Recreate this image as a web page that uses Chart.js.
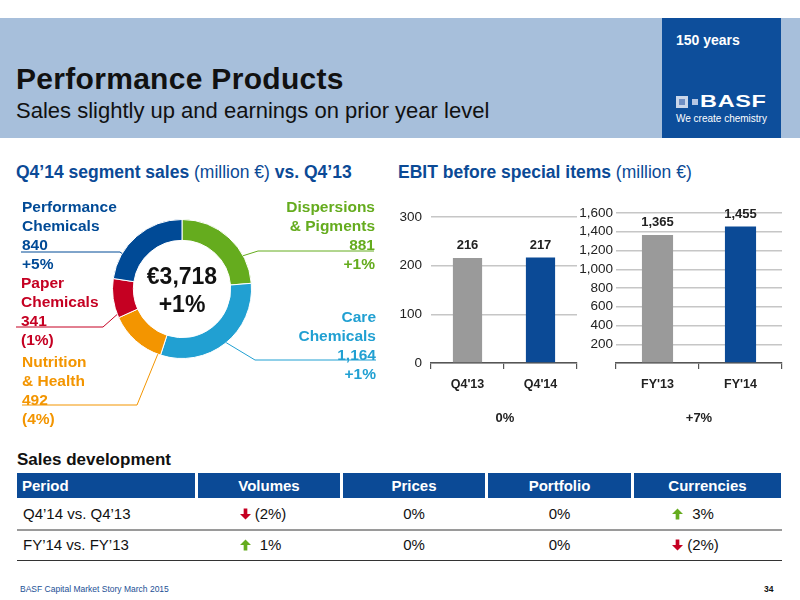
<!DOCTYPE html>
<html>
<head>
<meta charset="utf-8">
<script src="https://cdn.jsdelivr.net/npm/chart.js@4.4.1/dist/chart.umd.min.js"></script>
<style>
  body { margin: 0; width: 800px; height: 600px; position: relative; overflow: hidden;
         font-family: "Liberation Sans", Arial, sans-serif; background: #fff; color: #111; }
  .abs { position: absolute; }
  #band { left: 0; top: 18px; width: 800px; height: 120px; background: #a7bfdb; }
  #logoBox { left: 662px; top: 18px; width: 119px; height: 120px; background: #0d4e9b; color: #fff; }
  #title { left: 16px; top: 62px; font-size: 30px; font-weight: bold; letter-spacing: 0.3px; }
  #subtitle { left: 16px; top: 98px; font-size: 22px; }
  .head { font-size: 17.5px; color: #0b4a96; font-weight: bold; top: 162px; }
  .head span { font-weight: normal; }
  .lbl { font-size: 15.5px; font-weight: bold; line-height: 19px; }
  .lbl.r { text-align: right; }
  #centre { left: 122px; width: 120px; top: 262px; text-align: center; font-size: 23px;
            font-weight: bold; line-height: 28px; color: #111; }
  .pct { font-size: 13px; font-weight: bold; top: 410px; width: 60px; text-align: center; color: #222; }
  #tblTitle { left: 17px; top: 450px; font-size: 17px; font-weight: bold; }
  #tbl { left: 17px; top: 473px; width: 765px; }
  .row { display: grid; grid-template-columns: 178px 142px 142px 143px 147px; column-gap: 3px; }
  .hdr div { background: #0b4a96; color: #fff; font-weight: bold; font-size: 15px; height: 25px;
             line-height: 25px; text-align: center; }
  .hdr div:first-child { text-align: left; padding-left: 5px; }
  .body { font-size: 15px; height: 31px; line-height: 32px; }
  .body div { text-align: center; }
  .body div:first-child { text-align: left; padding-left: 6px; }
  .sep { border-bottom: 2px solid #9a9a9a; }
  .last { border-bottom: 1.5px solid #333; height: 29px; line-height: 28px; }
  .arr { display: inline-block; width: 11px; height: 12px; vertical-align: -1px; }
  .val { display: inline-block; width: 36px; text-align: center; margin-left: 2px; }
  #foot { left: 20px; top: 584px; font-size: 8.5px; color: #1c4f95; }
  #page { left: 764px; top: 584px; font-size: 8.5px; font-weight: bold; }
</style>
</head>
<body>
<div id="band" class="abs"></div>
<div id="logoBox" class="abs">
  <div class="abs" style="left:14px;top:14px;font-size:14px;font-weight:bold;">150 years</div>
  <div class="abs" style="left:14px;top:78px;width:12px;height:12px;background:#c9d6ea;"></div>
  <div class="abs" style="left:17px;top:81px;width:6px;height:6px;background:#6f8fc4;"></div>
  <div class="abs" style="left:30px;top:81px;width:6px;height:6px;background:#b4c5e2;"></div>
  <div class="abs" style="left:38px;top:74px;font-size:17px;font-weight:bold;transform:scaleX(1.38);transform-origin:left;letter-spacing:0.5px;">BASF</div>
  <div class="abs" style="left:14px;top:95px;font-size:10px;">We create chemistry</div>
</div>
<div id="title" class="abs">Performance Products</div>
<div id="subtitle" class="abs">Sales slightly up and earnings on prior year level</div>

<div class="abs head" style="left:16px;">Q4’14 segment sales <span>(million €)</span> vs. Q4’13</div>
<div class="abs head" style="left:398px;">EBIT before special items <span>(million €)</span></div>

<canvas id="donut" class="abs" width="390" height="240" style="left:0;top:190px;"></canvas>
<div id="segLabels"></div>
<div id="centre" class="abs"></div>

<canvas id="qChart" class="abs" width="200" height="200" style="left:390px;top:200px;"></canvas>
<canvas id="yChart" class="abs" width="220" height="200" style="left:575px;top:200px;"></canvas>
<div class="abs pct" id="qPct" style="left:475px;"></div>
<div class="abs pct" id="yPct" style="left:669px;"></div>

<div id="tblTitle" class="abs">Sales development</div>
<div id="tbl" class="abs"></div>

<div id="foot" class="abs">BASF Capital Market Story March 2015</div>
<div id="page" class="abs">34</div>

<script>
// ---- data ----
const segments = ['Dispersions & Pigments', 'Care Chemicals', 'Nutrition & Health', 'Paper Chemicals', 'Performance Chemicals'];
const segmentSales = [881, 1164, 492, 341, 840];
const segmentChange = ['+1%', '+1%', '(4%)', '(1%)', '+5%'];
const totalChange = '+1%';

const quarterLabels = ["Q4'13", "Q4'14"];
const quarterEbit = [216, 217];
const quarterChange = '0%';
const yearLabels = ["FY'13", "FY'14"];
const yearEbit = [1365, 1455];
const yearChange = '+7%';

const tableCols = ['Period', 'Volumes', 'Prices', 'Portfolio', 'Currencies'];
const periods = ['Q4’14 vs. Q4’13', 'FY’14 vs. FY’13'];
const volumes = ['(2%)', '1%'];
const prices = ['0%', '0%'];
const portfolio = ['0%', '0%'];
const currencies = ['3%', '(2%)'];
const volumesDir = ['down', 'up'];
const currenciesDir = ['up', 'down'];

// ---- styling ----
const segColors = ['#65ac1e', '#21a0d2', '#f39500', '#c50022', '#004a96'];
// label blocks and leader lines (canvas coords of donut canvas, top = 190)
const segLayout = [
  { right: 375, top: 197, frac: 0.72, elbow: [258, 61], end: [374, 61] },
  { right: 376, top: 307, frac: 0.49, elbow: [255, 170], end: [376, 170] },
  { left: 22, top: 352, frac: 0.05, elbow: [137, 215], end: [22, 215] },
  { left: 21, top: 273, frac: 0.09, elbow: [103, 137], end: [16, 137] },
  { left: 22, top: 197, frac: 0.27, elbow: [120, 62], end: [21, 62] }
];

Chart.defaults.font.family = '"Liberation Sans", Arial, sans-serif';
Chart.defaults.color = '#222';

const fmt = v => v.toLocaleString('en-US');

// segment labels
const labelHost = document.getElementById('segLabels');
segments.forEach((name, i) => {
  const cut = name.indexOf(' ');
  const d = document.createElement('div');
  const lay = segLayout[i];
  d.className = 'abs lbl' + (lay.right ? ' r' : '');
  d.style.color = segColors[i];
  d.style.top = lay.top + 'px';
  if (lay.right) d.style.right = (800 - lay.right) + 'px'; else d.style.left = lay.left + 'px';
  d.innerHTML = name.slice(0, cut) + '<br>' + name.slice(cut + 1) + '<br>' + fmt(segmentSales[i]) + '<br>' + segmentChange[i];
  labelHost.appendChild(d);
});
const total = segmentSales.reduce((a, b) => a + b, 0);
document.getElementById('centre').innerHTML = '€' + fmt(total) + '<br>' + totalChange;

const leaderLines = {
  id: 'leaderLines',
  afterDatasetsDraw(chart) {
    const ctx = chart.ctx;
    chart.getDatasetMeta(0).data.forEach((arc, i) => {
      const p = arc.getProps(['x', 'y', 'startAngle', 'endAngle', 'outerRadius'], true);
      const lay = segLayout[i];
      const a = p.startAngle + lay.frac * (p.endAngle - p.startAngle);
      ctx.save();
      ctx.strokeStyle = segColors[i];
      ctx.lineWidth = 1;
      ctx.beginPath();
      ctx.moveTo(p.x + Math.cos(a) * p.outerRadius, p.y + Math.sin(a) * p.outerRadius);
      ctx.lineTo(lay.elbow[0], lay.elbow[1]);
      ctx.lineTo(lay.end[0], lay.end[1]);
      ctx.stroke();
      ctx.restore();
    });
  }
};

new Chart(document.getElementById('donut'), {
  type: 'doughnut',
  data: {
    labels: segments,
    datasets: [{ data: segmentSales, backgroundColor: segColors, borderColor: '#fff', borderWidth: 1 }]
  },
  options: {
    responsive: false,
    animation: false,
    cutout: '70%',
    layout: { padding: { left: 112, right: 138, top: 29, bottom: 71 } },
    plugins: { legend: { display: false }, tooltip: { enabled: false } }
  },
  plugins: [leaderLines]
});

// ---- bar charts ----
const barValues = {
  id: 'barValues',
  afterDatasetsDraw(chart) {
    const ctx = chart.ctx;
    const ds = chart.data.datasets[0];
    ctx.save();
    ctx.font = 'bold 13px "Liberation Sans", Arial, sans-serif';
    ctx.fillStyle = '#222';
    ctx.textAlign = 'center';
    ctx.textBaseline = 'bottom';
    chart.getDatasetMeta(0).data.forEach((bar, i) => {
      ctx.fillText(fmt(ds.data[i]), bar.x, bar.y - 6);
    });
    ctx.restore();
  }
};

function barChart(id, labels, values, max, step, barPct, tickPad, showZero) {
  return new Chart(document.getElementById(id), {
    type: 'bar',
    data: {
      labels: labels,
      datasets: [{ data: values, backgroundColor: ['#9a9a9a', '#0b4a96'], barPercentage: barPct, categoryPercentage: 1 }]
    },
    options: {
      responsive: false,
      animation: false,
      layout: { padding: { top: 13, right: 13, left: 0, bottom: 0 } },
      plugins: { legend: { display: false }, tooltip: { enabled: false } },
      scales: {
        x: {
          grid: { offset: true, drawOnChartArea: false, tickLength: 6, color: '#555', lineWidth: 1.2 },
          border: { color: '#555', width: 1.5 },
          ticks: { padding: 8, font: { size: 12.5, weight: 'bold' }, color: '#222' },
          afterFit: s => { s.height = 37; }
        },
        y: {
          min: 0, max: max,
          grid: { drawTicks: false, color: '#c6c6c6', lineWidth: 1.5 },
          border: { display: false },
          ticks: {
            stepSize: step, padding: tickPad, font: { size: 13.5 }, color: '#222', autoSkip: false,
            callback: v => (v === 0 && !showZero) ? '' : fmt(v)
          },
          afterFit: s => { s.width = 41; }
        }
      }
    },
    plugins: [barValues]
  });
}
barChart('qChart', quarterLabels, quarterEbit, 300, 100, 0.4, 9, true);
barChart('yChart', yearLabels, yearEbit, 1600, 200, 0.375, 3, false);
document.getElementById('qPct').textContent = quarterChange;
document.getElementById('yPct').textContent = yearChange;

// ---- table ----
const arrowSvg = dir => {
  const col = dir === 'up' ? '#65ac1e' : '#c50022';
  const path = dir === 'up' ? 'M4 12H8V6H12L6 0L0 6H4Z' : 'M4 0H8V6H12L6 12L0 6H4Z';
  return '<svg class="arr" viewBox="0 0 12 12"><path d="' + path + '" fill="' + col + '"/></svg>';
};
let html = '<div class="row hdr">' + tableCols.map(c => '<div>' + c + '</div>').join('') + '</div>';
periods.forEach((p, i) => {
  html += '<div class="row body ' + (i === 0 ? 'sep' : 'last') + '">' +
    '<div>' + p + '</div>' +
    '<div style="padding-right:10px">' + arrowSvg(volumesDir[i]) + '<span class="val">' + volumes[i] + '</span></div>' +
    '<div>' + prices[i] + '</div>' +
    '<div>' + portfolio[i] + '</div>' +
    '<div style="padding-right:22px">' + arrowSvg(currenciesDir[i]) + '<span class="val">' + currencies[i] + '</span></div>' +
    '</div>';
});
document.getElementById('tbl').innerHTML = html;
</script>
</body>
</html>
